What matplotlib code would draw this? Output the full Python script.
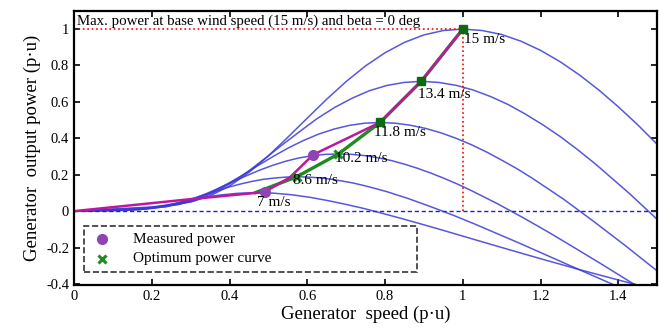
import matplotlib
matplotlib.use('Agg')
import matplotlib.pyplot as plt
from matplotlib.patches import Rectangle

plt.rcParams['font.family'] = ['Liberation Serif', 'DejaVu Serif']

# turbine power curves (beta = 0 deg), one per wind speed
wind_labels = ['15 m/s', '13.4 m/s', '11.8 m/s', '10.2 m/s', '8.6 m/s', '7 m/s']

speed_15 = [0, 0.1, 0.2, 0.3, 0.35, 0.4, 0.45, 0.5, 0.55, 0.6, 0.65, 0.7, 0.75, 0.8, 0.85, 0.9, 0.95,
            1.0, 1.05, 1.1, 1.15, 1.2, 1.25, 1.3, 1.35, 1.4, 1.45, 1.5]
power_15 = [0, 0.012, 0.023, 0.050, 0.084, 0.138, 0.213, 0.304, 0.406, 0.511, 0.615, 0.712, 0.798,
            0.870, 0.927, 0.968, 0.992, 1.000, 0.992, 0.970, 0.933, 0.883, 0.821, 0.748, 0.665,
            0.573, 0.474, 0.367]

speed_134 = [0, 0.089, 0.179, 0.268, 0.313, 0.357, 0.402, 0.447, 0.491, 0.536, 0.581, 0.625, 0.670,
             0.715, 0.759, 0.804, 0.849, 0.893, 0.938, 0.983, 1.027, 1.072, 1.117, 1.161, 1.206,
             1.251, 1.295, 1.340, 1.429, 1.519]
power_134 = [0, 0.008, 0.017, 0.036, 0.060, 0.099, 0.152, 0.217, 0.289, 0.365, 0.438, 0.508, 0.569,
             0.620, 0.661, 0.690, 0.707, 0.713, 0.707, 0.691, 0.665, 0.629, 0.585, 0.533, 0.474,
             0.409, 0.338, 0.261, 0.096, -0.083]

speed_118 = [0, 0.079, 0.157, 0.236, 0.275, 0.315, 0.354, 0.393, 0.433, 0.472, 0.511, 0.551, 0.590,
             0.629, 0.669, 0.708, 0.747, 0.787, 0.826, 0.865, 0.905, 0.944, 0.983, 1.023, 1.062,
             1.101, 1.141, 1.180, 1.259, 1.337, 1.416, 1.495, 1.573]
power_118 = [0, 0.006, 0.011, 0.024, 0.041, 0.067, 0.104, 0.148, 0.197, 0.249, 0.299, 0.347, 0.388,
             0.423, 0.451, 0.471, 0.483, 0.487, 0.483, 0.472, 0.454, 0.430, 0.400, 0.364, 0.324,
             0.279, 0.231, 0.179, 0.066, -0.057, -0.186, -0.320, -0.457]

speed_102 = [0, 0.068, 0.136, 0.204, 0.238, 0.272, 0.306, 0.34, 0.374, 0.408, 0.442, 0.476, 0.51,
             0.544, 0.578, 0.612, 0.646, 0.68, 0.714, 0.748, 0.782, 0.816, 0.85, 0.884, 0.918,
             0.952, 0.986, 1.02, 1.088, 1.156, 1.224, 1.292, 1.36, 1.496]
power_102 = [0, 0.004, 0.007, 0.016, 0.026, 0.043, 0.067, 0.096, 0.128, 0.161, 0.193, 0.224, 0.251,
             0.274, 0.292, 0.304, 0.312, 0.314, 0.312, 0.305, 0.293, 0.278, 0.258, 0.235, 0.209,
             0.180, 0.149, 0.115, 0.042, -0.037, -0.120, -0.207, -0.295, -0.475]

speed_86 = [0, 0.057, 0.115, 0.172, 0.201, 0.229, 0.258, 0.287, 0.315, 0.344, 0.373, 0.401, 0.43,
            0.459, 0.487, 0.516, 0.545, 0.573, 0.602, 0.631, 0.659, 0.688, 0.717, 0.745, 0.774,
            0.803, 0.831, 0.860, 0.917, 0.975, 1.032, 1.089, 1.147, 1.261, 1.376, 1.491]
power_86 = [0, 0.002, 0.004, 0.009, 0.016, 0.026, 0.040, 0.057, 0.076, 0.096, 0.116, 0.134, 0.150,
            0.164, 0.175, 0.182, 0.187, 0.189, 0.187, 0.183, 0.176, 0.166, 0.155, 0.141, 0.125,
            0.108, 0.089, 0.069, 0.025, -0.022, -0.072, -0.124, -0.177, -0.285, -0.393, -0.499]

speed_7 = [0, 0.047, 0.093, 0.14, 0.163, 0.187, 0.21, 0.233, 0.28, 0.327, 0.373, 0.42, 0.467, 0.513,
           0.56, 0.607, 0.653, 0.70, 0.747, 0.793, 0.84, 0.887, 0.933, 1.027, 1.12, 1.213, 1.307, 1.40, 1.493]
power_7 = [0, 0.001, 0.002, 0.005, 0.008, 0.014, 0.022, 0.031, 0.052, 0.072, 0.088, 0.098, 0.102, 0.099,
           0.090, 0.076, 0.058, 0.037, 0.014, -0.012, -0.039, -0.067, -0.095, -0.154, -0.212, -0.269,
           -0.325, -0.378, -0.429]

# optimum power curve (peaks of each curve)
opt_speed = [0.467, 0.573, 0.68, 0.787, 0.893, 1.0]
opt_power = [0.102, 0.189, 0.314, 0.487, 0.713, 1.0]

# measured power
meas_speed = [0, 0.3, 0.49, 0.555, 0.615, 0.787, 0.893, 1.0]
meas_power = [0, 0.066, 0.105, 0.185, 0.31, 0.487, 0.713, 1.0]
meas_pts_speed = [0.49, 0.615]
meas_pts_power = [0.105, 0.31]

curves = [(speed_15, power_15), (speed_134, power_134), (speed_118, power_118),
          (speed_102, power_102), (speed_86, power_86), (speed_7, power_7)]

blue = '#3a3ad6'
green = '#1e8c1e'
magenta = '#c0169e'
purple = '#8e44b5'

fig = plt.figure(figsize=(6.59, 3.29), dpi=100)
ax = fig.add_axes([0.1123, 0.134, 0.885, 0.833])

for sp, pw in curves:
    ax.plot(sp, pw, color=blue, lw=1.1, alpha=0.85)

# reference lines
ax.plot([0, 1], [1, 1], color='red', ls=':', lw=1.2)
ax.plot([1, 1], [0, 1], color='red', ls=':', lw=1.2)
ax.axhline(0, color='#2020d0', ls=(0, (3, 2)), lw=1.0)

ax.plot(opt_speed, opt_power, color=green, lw=2.4)
ax.plot(meas_speed, meas_power, color=magenta, lw=1.8)
ax.plot(opt_speed[1:3], opt_power[1:3], ls='none', marker='x', ms=6, mew=2.2, color=green)
ax.plot(opt_speed[3:], opt_power[3:], ls='none', marker='s', ms=6, color='#0d6a10')
ax.plot(meas_pts_speed, meas_pts_power, ls='none', marker='o', ms=7, color=purple)

# wind speed labels
label_pos = [(1.003, 0.945), (0.885, 0.64), (0.772, 0.43), (0.67, 0.29), (0.563, 0.168), (0.47, 0.048)]
for (lx, ly), txt in zip(label_pos, wind_labels):
    ax.text(lx, ly, txt, fontsize=11, va='center', ha='left')

ax.text(0.008, 1.005, 'Max. power at base wind speed (15 m/s) and beta = 0 deg',
        fontsize=10.7, va='bottom', ha='left')

# legend box
ax.add_patch(Rectangle((0.026, -0.336), 0.856, 0.252, fill=False, ls='--', lw=1.2, ec='#333333'))
ax.plot([0.072], [-0.155], ls='none', marker='o', ms=7, color=purple)
ax.plot([0.072], [-0.26], ls='none', marker='x', ms=5.5, mew=2.2, color=green)
ax.text(0.152, -0.155, 'Measured power', fontsize=11, va='center')
ax.text(0.152, -0.26, 'Optimum power curve', fontsize=11, va='center')

ax.set_xlim(0, 1.5)
ax.set_ylim(-0.405, 1.1)
ax.set_xticks([0, 0.2, 0.4, 0.6, 0.8, 1.0, 1.2, 1.4])
ax.set_xticklabels(['0', '0.2', '0.4', '0.6', '0.8', '1', '1.2', '1.4'])
ax.set_yticks([-0.4, -0.2, 0, 0.2, 0.4, 0.6, 0.8, 1.0])
ax.set_yticklabels(['-0.4', '-0.2', '0', '0.2', '0.4', '0.6', '0.8', '1'])
ax.tick_params(direction='in', top=True, right=True, length=4, width=1.2, labelsize=10.5)
for s in ax.spines.values():
    s.set_linewidth(1.6)

ax.set_xlabel('Generator  speed (p\u00b7u)', fontsize=13.5, labelpad=2)
ax.set_ylabel('Generator  output power (p\u00b7u)', fontsize=13.5, labelpad=4)

fig.savefig('out.png', dpi=100)
